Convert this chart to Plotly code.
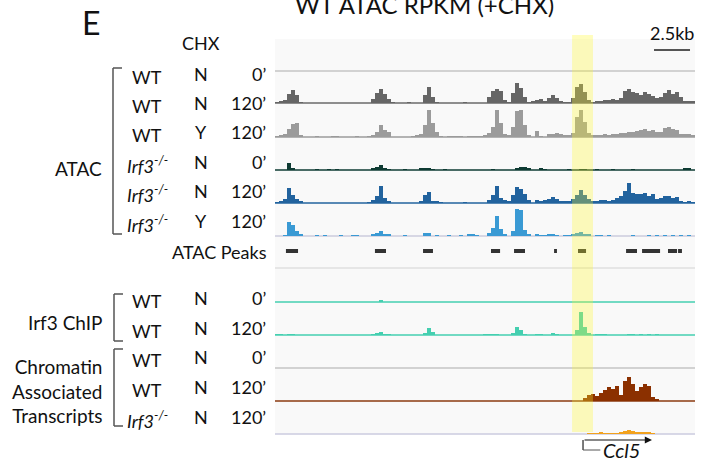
import plotly.graph_objects as go

# ---------------- data ----------------
BIN_KB = 2.5 / 9          # genomic bin width (kb)
N_BINS = 105
SCALE_KB = 2.5
SCALE_START_KB = 26.32
HIGHLIGHT_KB = [20.63, 22.08]
CCL5_TSS_KB = 21.39
CCL5_END_KB = 26.18
ATAC_PEAKS_KB = [[0.76, 1.60], [6.94, 7.71], [10.28, 10.97], [15.00, 15.63], [16.60, 17.36],
                 [19.38, 19.58], [21.04, 21.60], [24.38, 25.14], [25.49, 26.74], [27.29, 27.92],
                 [27.99, 28.26]]

wt_n_0 = [
    0, 0, 0, 0, 0, 0, 0, 0, 0, 0, 0, 0, 0, 0, 0,
    0, 0, 0, 0, 0, 0, 0, 0, 0, 0, 0, 0, 0, 0, 0,
    0, 0, 0, 0, 0, 0, 0, 0, 0, 0, 0, 0, 0, 0, 0,
    0, 0, 0, 0, 0, 0, 0, 0, 0, 0, 0, 0, 0, 0, 0,
    0, 0, 0, 0, 0, 0, 0, 0, 0, 0, 0, 0, 0, 0, 0,
    0, 0, 0, 0, 0, 0, 0, 0, 0, 0, 0, 0, 0, 0, 0,
    0, 0, 0, 0, 0, 0, 0, 0, 0, 0, 0, 0, 0, 0, 0]
wt_n_120 = [
    1, 2, 3, 9, 13, 8, 1, 0, 0, 0, 0, 0, 0, 0, 0,
    0, 0, 0, 0, 0, 0, 0, 0, 0, 4, 10, 14, 9, 4, 1,
    0, 0, 0, 1, 0, 0, 0, 8, 16, 6, 1, 0, 0, 0, 0,
    0, 0, 1, 0, 0, 0, 0, 0, 6, 12, 14, 12, 3, 1, 10,
    20, 15, 6, 1, 2, 3, 4, 2, 5, 8, 5, 2, 1, 1, 5,
    16, 19, 11, 3, 1, 2, 2, 3, 3, 4, 3, 5, 12, 14, 11,
    10, 8, 11, 9, 7, 5, 6, 10, 13, 9, 11, 6, 2, 2, 2]
wt_y_120 = [
    1, 2, 3, 8, 13, 14, 2, 0, 0, 0, 1, 0, 0, 0, 1,
    1, 0, 0, 0, 0, 1, 0, 0, 1, 2, 5, 12, 7, 5, 0,
    0, 0, 0, 0, 1, 2, 3, 12, 27, 14, 5, 1, 0, 1, 1,
    1, 1, 0, 1, 1, 1, 1, 2, 4, 10, 27, 14, 3, 2, 10,
    26, 27, 12, 2, 0, 6, 1, 0, 3, 3, 4, 3, 2, 2, 4,
    20, 27, 15, 4, 2, 2, 2, 3, 2, 3, 3, 4, 4, 5, 5,
    6, 7, 8, 6, 7, 5, 5, 9, 10, 8, 7, 3, 3, 3, 2]
ko_n_0 = [
    0, 0, 0, 7, 2, 0, 0, 0, 0, 0, 1, 0, 0, 1, 0,
    1, 0, 0, 0, 0, 0, 0, 0, 0, 2, 3, 5, 2, 1, 0,
    0, 0, 1, 0, 0, 0, 2, 2, 2, 1, 0, 0, 1, 0, 0,
    0, 0, 0, 0, 0, 0, 0, 0, 0, 1, 0, 0, 0, 0, 0,
    2, 3, 3, 2, 0, 0, 2, 1, 0, 0, 0, 0, 0, 1, 0,
    0, 1, 1, 0, 0, 1, 0, 0, 0, 1, 0, 0, 0, 0, 1,
    0, 0, 0, 0, 0, 0, 0, 0, 0, 0, 0, 0, 2, 2, 0]
ko_n_120 = [
    1, 2, 4, 15, 8, 4, 2, 0, 0, 0, 0, 0, 0, 0, 0,
    0, 0, 0, 0, 0, 0, 0, 0, 1, 3, 7, 17, 5, 2, 0,
    0, 0, 0, 0, 0, 0, 2, 8, 11, 2, 2, 1, 0, 0, 0,
    0, 0, 1, 0, 0, 0, 0, 0, 3, 8, 17, 5, 3, 2, 8,
    16, 14, 9, 3, 0, 3, 2, 3, 4, 6, 4, 2, 2, 2, 4,
    8, 13, 8, 4, 2, 2, 3, 3, 2, 3, 5, 7, 12, 20, 10,
    9, 9, 10, 7, 9, 4, 5, 7, 7, 5, 6, 2, 1, 2, 1]
ko_y_120 = [
    0, 0, 1, 14, 11, 5, 2, 0, 0, 0, 1, 0, 1, 0, 0,
    0, 1, 0, 0, 1, 1, 0, 0, 0, 2, 3, 5, 2, 2, 0,
    0, 0, 1, 0, 0, 0, 0, 3, 3, 0, 1, 0, 0, 1, 0,
    0, 1, 0, 2, 2, 1, 0, 0, 3, 8, 20, 7, 2, 0, 5,
    27, 26, 6, 2, 0, 2, 1, 1, 2, 2, 1, 0, 1, 1, 2,
    3, 4, 2, 2, 0, 1, 1, 0, 1, 0, 0, 0, 0, 0, 1,
    0, 0, 0, 1, 0, 1, 0, 1, 0, 1, 0, 1, 0, 1, 0]
chip_0 = [
    0, 0, 0, 0, 0, 0, 0, 0, 0, 0, 0, 0, 0, 0, 0,
    0, 0, 0, 0, 0, 0, 0, 0, 0, 0, 0, 2, 0, 0, 0,
    0, 0, 0, 0, 0, 0, 0, 0, 0, 0, 0, 0, 0, 0, 0,
    0, 0, 0, 0, 0, 0, 0, 0, 0, 0, 0, 0, 0, 0, 0,
    0, 0, 0, 0, 0, 0, 0, 0, 0, 0, 0, 0, 0, 0, 0,
    0, 0, 0, 0, 0, 0, 0, 0, 0, 0, 0, 0, 0, 0, 0,
    0, 0, 0, 0, 0, 0, 0, 0, 0, 0, 0, 0, 0, 0, 0]
chip_120 = [
    1, 1, 0, 1, 1, 0, 0, 0, 0, 0, 0, 0, 0, 0, 0,
    0, 0, 0, 0, 0, 0, 0, 0, 0, 1, 2, 3, 1, 1, 0,
    0, 0, 0, 0, 0, 0, 0, 2, 7, 3, 0, 0, 0, 0, 0,
    0, 0, 0, 0, 0, 0, 0, 1, 1, 1, 1, 0, 0, 0, 2,
    8, 5, 1, 0, 0, 1, 1, 0, 0, 2, 1, 0, 0, 0, 0,
    5, 23, 8, 2, 0, 1, 1, 1, 0, 0, 0, 0, 0, 1, 1,
    0, 1, 0, 1, 0, 1, 0, 0, 0, 0, 0, 0, 0, 0, 0]
cat_wt_0 = [
    0, 0, 0, 0, 0, 0, 0, 0, 0, 0, 0, 0, 0, 0, 0,
    0, 0, 0, 0, 0, 0, 0, 0, 0, 0, 0, 0, 0, 0, 0,
    0, 0, 0, 0, 0, 0, 0, 0, 0, 0, 0, 0, 0, 0, 0,
    0, 0, 0, 0, 0, 0, 0, 0, 0, 0, 0, 0, 0, 0, 0,
    0, 0, 0, 0, 0, 0, 0, 0, 0, 0, 0, 0, 0, 0, 0,
    0, 0, 0, 0, 0, 0, 0, 0, 0, 0, 0, 0, 0, 0, 0,
    0, 0, 0, 0, 0, 0, 0, 0, 0, 0, 0, 0, 0, 0, 0]
cat_wt_120 = [
    0, 0, 0, 0, 0, 0, 0, 0, 0, 0, 0, 0, 0, 0, 0,
    0, 0, 0, 0, 0, 0, 0, 0, 0, 0, 0, 0, 0, 0, 0,
    0, 0, 0, 0, 0, 0, 0, 0, 0, 0, 0, 0, 0, 0, 0,
    0, 0, 0, 0, 0, 0, 0, 0, 0, 0, 0, 0, 0, 0, 0,
    0, 0, 0, 0, 0, 0, 0, 0, 0, 0, 0, 0, 0, 0, 0,
    0, 0, 3, 6, 7, 5, 8, 11, 14, 12, 15, 6, 20, 24, 17,
    10, 14, 17, 15, 4, 2, 0, 0, 0, 0, 0, 0, 0, 0, 0]
cat_ko_120 = [
    0, 0, 0, 0, 0, 0, 0, 0, 0, 0, 0, 0, 0, 0, 0,
    0, 0, 0, 0, 0, 0, 0, 0, 0, 0, 0, 0, 0, 0, 0,
    0, 0, 0, 0, 0, 0, 0, 0, 0, 0, 0, 0, 0, 0, 0,
    0, 0, 0, 0, 0, 0, 0, 0, 0, 0, 0, 0, 0, 0, 0,
    0, 0, 0, 0, 0, 0, 0, 0, 0, 0, 0, 0, 0, 0, 0,
    0, 0, 0, 1, 1, 1, 2, 1, 1, 1, 1, 2, 3, 4, 3,
    2, 2, 2, 2, 1, 0, 0, 0, 0, 0, 0, 0, 0, 0, 0]

KO = "<i>Irf3<sup>-/-</sup></i>"
row_genotype = ["WT", "WT", "WT", KO, KO, KO, "WT", "WT", "WT", "WT", KO]
row_chx = ["N", "N", "Y", "N", "N", "Y", "N", "N", "N", "N", "N"]
row_time = ["0’", "120’", "120’", "0’", "120’", "120’", "0’", "120’", "0’", "120’", "120’"]

# ---------------- style ----------------
W, H = 704, 462
FONT = "Lato"
PANEL = (275, 695, 39, 434)
track_vals = [wt_n_0, wt_n_120, wt_y_120, ko_n_0, ko_n_120, ko_y_120,
              chip_0, chip_120, cat_wt_0, cat_wt_120, cat_ko_120]
track_base_py = [71, 103, 137, 170, 203, 236, 302, 335, 368, 401, 434]
track_fill = ["#bdbdbd", "#666666", "#9b9b9b", "#0e3b33", "#22639e", "#3a9ad4",
              "#45cfb0", "#45cfb0", "#c0c0c0", "#8b3000", "#f2a21e"]
track_line = ["#c4c4c4", "#6a6a6a", "#9b9b9b", "#0e3b33", "#22639e", "#cbcbdd",
              "#45cfb0", "#45cfb0", "#c4c4c4", "#8b3a10", "#cbcbdf"]
label_py = [75, 104, 133, 163, 192, 222, 299, 329, 358, 388, 418]
TRACK_H = 33


def px(xp):
    return xp / W


def py(yp):
    return 1 - yp / H


fig = go.Figure()
XMAX = N_BINS * BIN_KB
edges = [i * BIN_KB for i in range(N_BINS + 1)]

layout_axes = {}
for k, (vals, base, fc) in enumerate(zip(track_vals, track_base_py, track_fill)):
    yname = "y" if k == 0 else f"y{k + 1}"
    lname = "yaxis" if k == 0 else f"yaxis{k + 1}"
    layout_axes[lname] = dict(domain=[py(base), py(base - TRACK_H)], range=[0, TRACK_H],
                              visible=False, fixedrange=True, anchor="x")
    fig.add_trace(go.Scatter(x=edges, y=list(vals) + [vals[-1]], mode="lines",
                             line=dict(width=0, shape="hv", color=fc), fill="tozeroy",
                             fillcolor=fc, xaxis="x", yaxis=yname, hoverinfo="skip"))

# ATAC peak bars (drawn as a trace on own axis)
peaks_base = 251
layout_axes["yaxis12"] = dict(domain=[py(peaks_base + 4), py(peaks_base - 4)], range=[-1, 1],
                              visible=False, fixedrange=True, anchor="x")
for s, e in ATAC_PEAKS_KB:
    fig.add_trace(go.Scatter(x=[s, e], y=[0, 0], mode="lines", line=dict(color="#333333", width=4),
                             xaxis="x", yaxis="y12", hoverinfo="skip"))

shapes = []
# panel background
shapes.append(dict(type="rect", xref="paper", yref="paper", x0=px(PANEL[0]), x1=px(PANEL[1]),
                   y0=py(PANEL[3]), y1=py(PANEL[2]), fillcolor="#f9f9f9", line=dict(width=0),
                   layer="below"))
for base, lc in zip(track_base_py, track_line):
    shapes.append(dict(type="line", xref="paper", yref="paper", x0=px(PANEL[0]), x1=px(PANEL[1]),
                       y0=py(base), y1=py(base), line=dict(color=lc, width=1.6), layer="below"))
shapes.append(dict(type="line", xref="paper", yref="paper", x0=px(PANEL[0]), x1=px(PANEL[1]),
                   y0=py(268), y1=py(268), line=dict(color="#d4d4d4", width=1.2), layer="below"))
# highlight
shapes.append(dict(type="rect", xref="x", yref="paper", x0=HIGHLIGHT_KB[0], x1=HIGHLIGHT_KB[1],
                   y0=py(432), y1=py(35), fillcolor="rgba(255,248,40,0.3)", line=dict(width=0),
                   layer="above"))
# scale bar
shapes.append(dict(type="line", xref="x", yref="paper", x0=SCALE_START_KB, x1=SCALE_START_KB + SCALE_KB,
                   y0=py(50), y1=py(50), line=dict(color="#555555", width=2)))
# gene model
gline = dict(color="#222222", width=1.2)
shapes.append(dict(type="line", xref="x", yref="paper", x0=CCL5_TSS_KB, x1=CCL5_TSS_KB,
                   y0=py(440), y1=py(450), line=gline))
shapes.append(dict(type="line", xref="x", yref="paper", x0=CCL5_TSS_KB, x1=CCL5_TSS_KB + 1.2,
                   y0=py(450), y1=py(450), line=dict(color="#555555", width=1)))
# brackets
bc = dict(color="#555555", width=1.5)
for x, y0, y1 in [(113, 68, 234), (114, 294, 341), (114, 349, 426)]:
    shapes.append(dict(type="line", xref="paper", yref="paper", x0=px(x), x1=px(x),
                       y0=py(y0), y1=py(y1), line=bc))
    shapes.append(dict(type="line", xref="paper", yref="paper", x0=px(x), x1=px(x + 9),
                       y0=py(y0), y1=py(y0), line=bc))
    shapes.append(dict(type="line", xref="paper", yref="paper", x0=px(x), x1=px(x + 9),
                       y0=py(y1), y1=py(y1), line=bc))

ann = []


def text(t, x, y, size=18, xanchor="center", align="center", **kw):
    ann.append(dict(text=t, x=px(x), y=py(y), xref="paper", yref="paper", showarrow=False,
                    xanchor=xanchor, yanchor="middle", align=align,
                    font=dict(family=FONT, size=size, color="#111111"), **kw))


text("WT ATAC RPKM (+CHX)", 424, 4, size=24)
text("E", 91, 22, size=32)
text("CHX", 201, 43)
for g, c, t, y in zip(row_genotype, row_chx, row_time, label_py):
    text(g, 147, y + 2)
    text(c, 201, y - 1)
    text(t, 268, y - 1, xanchor="right", align="right")
text("ATAC Peaks", 269, 252, xanchor="right", align="right")
text("ATAC", 104, 168, size=19, xanchor="right", align="right")
text("Irf3 ChIP", 104, 322, size=19, xanchor="right", align="right")
text("Chromatin<br>Associated<br>Transcripts", 104, 391, size=19, xanchor="right", align="right")
text("2.5kb", 672, 33)
ann.append(dict(text="<i>Ccl5</i>", x=(CCL5_TSS_KB + CCL5_END_KB) / 2 + 0.3, y=py(450), xref="x",
                yref="paper", showarrow=False, xanchor="center", yanchor="middle",
                font=dict(family=FONT, size=20, color="#111111")))
ann.append(dict(text="", x=CCL5_END_KB, y=py(440), xref="x", yref="paper", ax=CCL5_TSS_KB, ay=0,
                axref="x", ayref="pixel", showarrow=True, arrowhead=2, arrowsize=1.2,
                arrowwidth=1.2, arrowcolor="#111111"))

fig.update_layout(
    width=W, height=H, margin=dict(l=0, r=0, t=0, b=0),
    paper_bgcolor="white", plot_bgcolor="rgba(0,0,0,0)", showlegend=False,
    xaxis=dict(domain=[px(PANEL[0]), px(PANEL[1])], range=[0, XMAX], visible=False, fixedrange=True),
    shapes=shapes, annotations=ann,
    **layout_axes,
)
fig.write_html("out.html")
